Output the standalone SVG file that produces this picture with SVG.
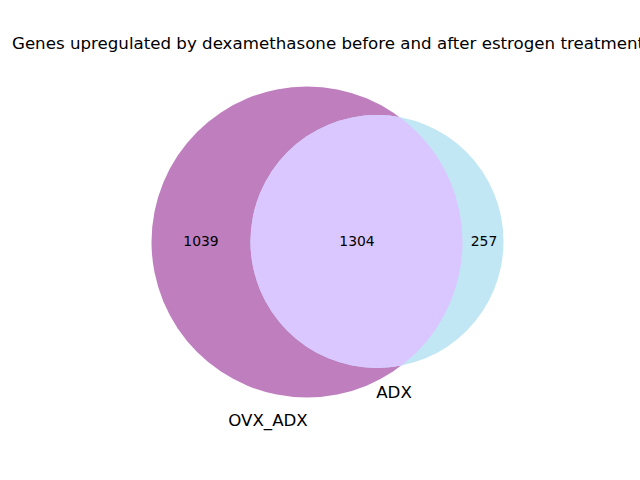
<svg xmlns="http://www.w3.org/2000/svg" width="640" height="480" viewBox="0 0 640 480">
<style>
text{font-family:"DejaVu Sans",sans-serif;fill:#000}
.num{font-size:13.9px;text-anchor:middle}
.set{font-size:16.67px;text-anchor:middle}
</style>
<defs>
<clipPath id="clipA"><circle cx="307" cy="242" r="155.5"/></clipPath>
</defs>
<rect width="640" height="480" fill="#fff"/>
<text x="328" y="49" style="font-size:16.67px;text-anchor:middle">Genes upregulated by dexamethasone before and after estrogen treatment</text>
<g id="ovx_adx"><circle cx="307" cy="242" r="155.5" fill="#bf7fbf"/></g>
<g id="adx"><circle cx="377" cy="241.5" r="126.5" fill="#c1e6f4"/></g>
<g id="intersection"><circle cx="377" cy="241.5" r="126.5" fill="#dbc7ff" clip-path="url(#clipA)"/></g>
<g id="labels">
<text class="num" x="201" y="246">1039</text>
<text class="num" x="357" y="246">1304</text>
<text class="num" x="484" y="246">257</text>
<text class="set" x="394" y="398">ADX</text>
<text class="set" x="268" y="426">OVX_ADX</text>
</g>
</svg>
